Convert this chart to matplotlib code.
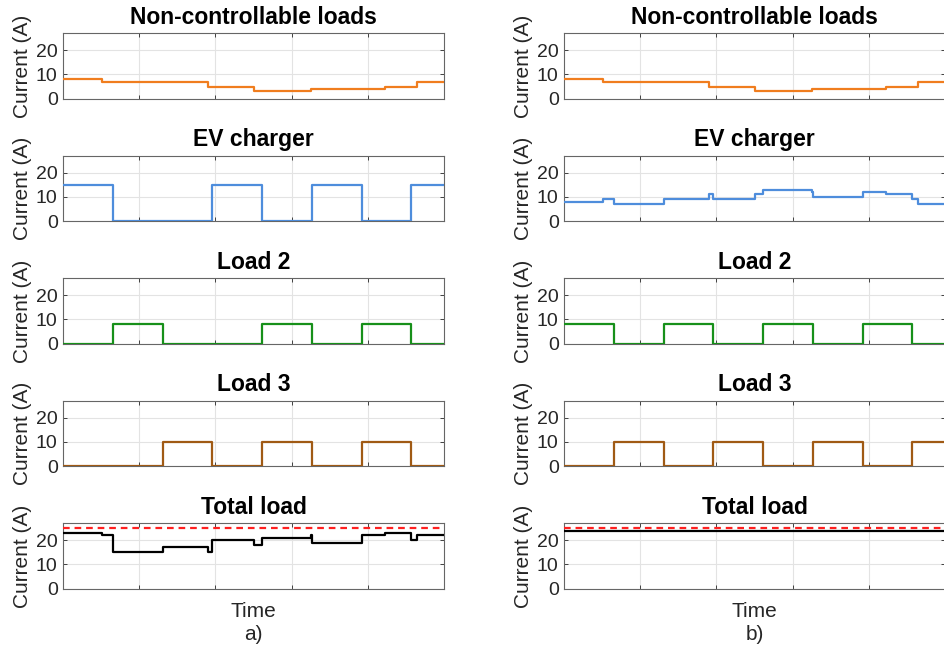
import matplotlib

matplotlib.use("Agg")
import matplotlib.pyplot as plt

plt.rcParams["font.family"] = ["Liberation Sans", "DejaVu Sans"]

# time axis in % of the simulated horizon
t_nc = [0, 10.1, 38.1, 50.0, 65.0, 84.6, 92.9, 100]
nc_load = [8, 7, 5, 3, 4, 5, 7, 7]

t_slot = [0, 13.1, 26.2, 39.2, 52.3, 65.4, 78.4, 91.5, 100]
ev_a = [15, 0, 0, 15, 0, 15, 0, 15, 15]
load2_a = [0, 8, 0, 0, 8, 0, 8, 0, 0]
load3_a = [0, 0, 10, 0, 10, 0, 10, 0, 0]
load2_b = [8, 0, 8, 0, 8, 0, 8, 0, 0]
load3_b = [0, 10, 0, 10, 0, 10, 0, 10, 10]

t_mix = [0, 10.1, 13.1, 26.2, 38.1, 39.2, 50.0, 52.3, 65.0, 65.4, 78.4, 84.6, 91.5, 92.9, 100]
total_a = [23, 22, 15, 17, 15, 20, 18, 21, 22, 19, 22, 23, 20, 22, 22]
ev_b = [8, 9, 7, 9, 11, 9, 11, 13, 12, 10, 12, 11, 9, 7, 7]

t_flat = [0, 100]
total_b = [24, 24]
limit = 25

titles = ["Non-controllable loads", "EV charger", "Load 2", "Load 3", "Total load"]
colors = ["#F07D1E", "#4E8DDC", "#17901A", "#A05A14", "black"]

panels = {
    "a": [(t_nc, nc_load), (t_slot, ev_a), (t_slot, load2_a), (t_slot, load3_a), (t_mix, total_a)],
    "b": [(t_nc, nc_load), (t_mix, ev_b), (t_slot, load2_b), (t_slot, load3_b), (t_flat, total_b)],
}

W, H = 945, 652
fig = plt.figure(figsize=(W / 100, H / 100), dpi=100)

col_left = {"a": 63.3, "b": 564.3}
ax_w = 380.5
ax_h = 65.3

for key, series in panels.items():
    x0 = col_left[key]
    for i, (t, y) in enumerate(series):
        top = 33.3 + 122.5 * i
        ax = fig.add_axes([x0 / W, 1 - (top + ax_h) / H, ax_w / W, ax_h / H])
        ax.step(t, y, where="post", color=colors[i], lw=1.6, zorder=3)
        if i == 4:
            ax.axhline(limit, color="#FF2020", ls=(0, (3, 2.2)), lw=1.6, zorder=3)
        ax.set_xlim(0, 100)
        ax.set_ylim(0, 27)
        ax.set_xticks([20, 40, 60, 80])
        ax.set_xticklabels([])
        ax.set_yticks([0, 10, 20])
        ax.grid(True, color="#E3E3E3", lw=0.8, zorder=0)
        ax.tick_params(direction="in", length=3, width=0.7, top=True, right=True,
                       labelsize=14, colors="#404040", labelcolor="#262626", pad=4)
        for s in ax.spines.values():
            s.set_color("#666666")
            s.set_linewidth(0.8)
        ax.set_title(titles[i], fontsize=16.5, fontweight="bold", pad=7)
        ax.set_ylabel("Current (A)", fontsize=15, color="#262626", labelpad=3)
        if i == 4:
            ax.set_xlabel("Time", fontsize=15, color="#262626", labelpad=6)
    fig.text((x0 + ax_w / 2) / W, 1 - 634 / H, key + ")", fontsize=15, color="#262626",
             ha="center", va="center")

fig.savefig("out.png", dpi=100)
